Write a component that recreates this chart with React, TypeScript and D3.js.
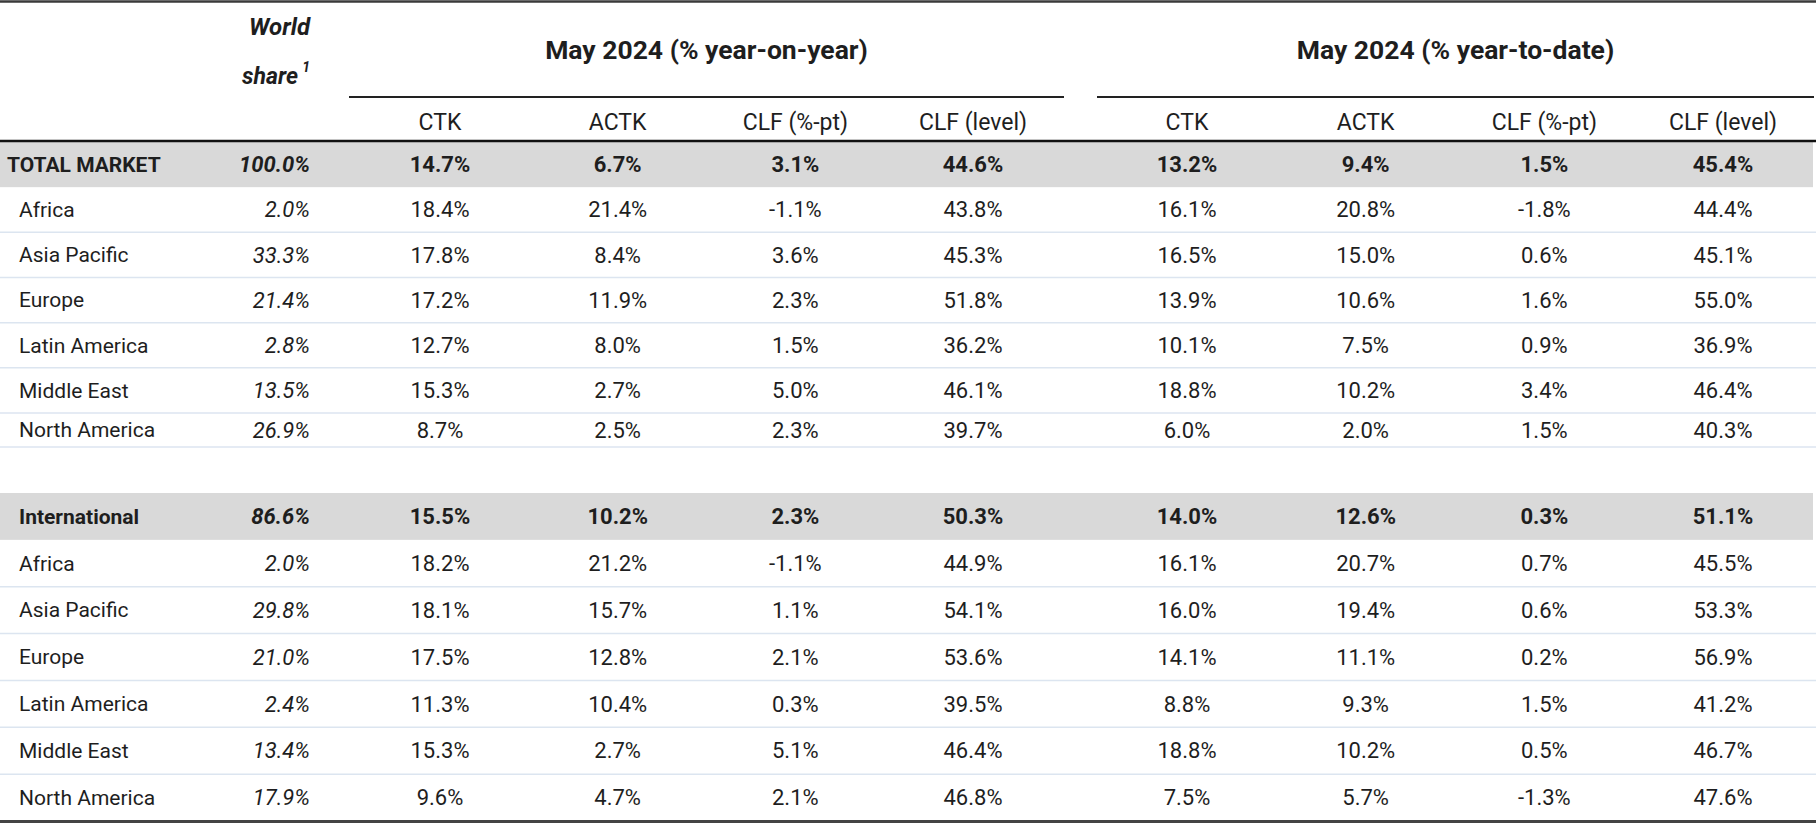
import React from "react";
import * as d3 from "d3";

const columnLabels = ["CTK", "ACTK", "CLF (%-pt)", "CLF (level)"];
const groupTitles = ["May 2024 (% year-on-year)", "May 2024 (% year-to-date)"];

const topRegions = ["TOTAL MARKET", "Africa", "Asia Pacific", "Europe", "Latin America", "Middle East", "North America"];
const topShare = ["100.0%", "2.0%", "33.3%", "21.4%", "2.8%", "13.5%", "26.9%"];
const topYoY = [
  ["14.7%", "6.7%", "3.1%", "44.6%"],
  ["18.4%", "21.4%", "-1.1%", "43.8%"],
  ["17.8%", "8.4%", "3.6%", "45.3%"],
  ["17.2%", "11.9%", "2.3%", "51.8%"],
  ["12.7%", "8.0%", "1.5%", "36.2%"],
  ["15.3%", "2.7%", "5.0%", "46.1%"],
  ["8.7%", "2.5%", "2.3%", "39.7%"],
];
const topYTD = [
  ["13.2%", "9.4%", "1.5%", "45.4%"],
  ["16.1%", "20.8%", "-1.8%", "44.4%"],
  ["16.5%", "15.0%", "0.6%", "45.1%"],
  ["13.9%", "10.6%", "1.6%", "55.0%"],
  ["10.1%", "7.5%", "0.9%", "36.9%"],
  ["18.8%", "10.2%", "3.4%", "46.4%"],
  ["6.0%", "2.0%", "1.5%", "40.3%"],
];

const intlRegions = ["International", "Africa", "Asia Pacific", "Europe", "Latin America", "Middle East", "North America"];
const intlShare = ["86.6%", "2.0%", "29.8%", "21.0%", "2.4%", "13.4%", "17.9%"];
const intlYoY = [
  ["15.5%", "10.2%", "2.3%", "50.3%"],
  ["18.2%", "21.2%", "-1.1%", "44.9%"],
  ["18.1%", "15.7%", "1.1%", "54.1%"],
  ["17.5%", "12.8%", "2.1%", "53.6%"],
  ["11.3%", "10.4%", "0.3%", "39.5%"],
  ["15.3%", "2.7%", "5.1%", "46.4%"],
  ["9.6%", "4.7%", "2.1%", "46.8%"],
];
const intlYTD = [
  ["14.0%", "12.6%", "0.3%", "51.1%"],
  ["16.1%", "20.7%", "0.7%", "45.5%"],
  ["16.0%", "19.4%", "0.6%", "53.3%"],
  ["14.1%", "11.1%", "0.2%", "56.9%"],
  ["8.8%", "9.3%", "1.5%", "41.2%"],
  ["18.8%", "10.2%", "0.5%", "46.7%"],
  ["7.5%", "5.7%", "-1.3%", "47.6%"],
];

const W = 1816;
const H = 824;
const FONT = "Roboto, 'Noto Sans', sans-serif";
const FS_LABEL = 21;
const FS_VAL = 22;
const FS_COL = 23;
const FS_TITLE = 26.5;
const FS_WORLD = 24;
const TXT = "#1e1e1e";
const BAND = "#d9d9d9";
const SEP = "#dce5f0";

export default function App() {
  const idx = d3.range(4);
  const xG1 = d3.scalePoint<number>().domain(idx).range([440, 973]);
  const xG2 = d3.scalePoint<number>().domain(idx).range([1187, 1723]);
  const groupX = [xG1, xG2];
  const groupLine = [[349, 1064], [1097, 1814]];

  const topBand = d3.scaleBand<number>().domain(d3.range(6)).range([142, 413]).paddingInner(0);
  const topRows = d3.range(7).map((i) =>
    i < 6 ? { y0: topBand(i)!, y1: topBand(i)! + topBand.bandwidth() } : { y0: 413, y1: 447 }
  );
  const botBand = d3.scaleBand<number>().domain(d3.range(7)).range([493, 821]);
  const botRows = d3.range(7).map((i) => ({ y0: botBand(i)!, y1: botBand(i)! + botBand.bandwidth() }));

  const shareX = 310;

  const renderBlock = (
    rows: { y0: number; y1: number }[],
    labels: string[],
    share: string[],
    yoy: string[][],
    ytd: string[][],
    key: string,
    firstIndent: number
  ) => (
    <g key={key}>
      {rows.map((r, i) => {
        const cy = (r.y0 + r.y1) / 2;
        const bold = i === 0;
        return (
          <g key={i}>
            {bold && <rect x={0} y={r.y0} width={1813} height={r.y1 - r.y0} fill={BAND} />}
            {!bold && <line x1={0} x2={W} y1={r.y1} y2={r.y1} stroke={SEP} strokeWidth={1.5} />}
            <text
              x={bold ? firstIndent : 19}
              y={cy}
              dy="0.35em"
              fontSize={FS_LABEL}
              fontWeight={bold ? 700 : 400}
              fill={TXT}
            >
              {labels[i]}
            </text>
            <text
              x={shareX}
              y={cy}
              dy="0.35em"
              textAnchor="end"
              fontSize={FS_VAL}
              fontStyle="italic"
              fontWeight={bold ? 700 : 400}
              fill={TXT}
            >
              {share[i]}
            </text>
            {[yoy[i], ytd[i]].map((vals, g) =>
              vals.map((v, c) => (
                <text
                  key={g + "-" + c}
                  x={groupX[g](c)}
                  y={cy}
                  dy="0.35em"
                  textAnchor="middle"
                  fontSize={FS_VAL}
                  fontWeight={bold ? 700 : 400}
                  fill={TXT}
                >
                  {v}
                </text>
              ))
            )}
          </g>
        );
      })}
    </g>
  );

  return (
    <svg
      width={W}
      height={H}
      style={{ position: "absolute", left: 0, top: 0, background: "#fff" }}
      fontFamily={FONT}
    >
      <rect x={0} y={0} width={W} height={H} fill="#fff" />
      <line x1={0} x2={W} y1={1.5} y2={1.5} stroke="#3a3a3a" strokeWidth={2.5} />
      <text x={shareX} y={27} dy="0.35em" textAnchor="end" fontSize={FS_WORLD} fontStyle="italic" fontWeight={700} fill={TXT}>
        World
      </text>
      <text x={shareX - 12} y={76} dy="0.35em" textAnchor="end" fontSize={23} fontStyle="italic" fontWeight={700} fill={TXT}>
        share
      </text>
      <text x={shareX} y={67} dy="0.35em" textAnchor="end" fontSize={14} fontStyle="italic" fontWeight={700} fill={TXT}>
        1
      </text>
      {groupTitles.map((t, g) => (
        <g key={t}>
          <text
            x={(groupLine[g][0] + groupLine[g][1]) / 2}
            y={50}
            dy="0.35em"
            textAnchor="middle"
            fontSize={FS_TITLE}
            fontWeight={700}
            fill={TXT}
          >
            {t}
          </text>
          <line x1={groupLine[g][0]} x2={groupLine[g][1]} y1={97} y2={97} stroke="#222" strokeWidth={2} />
          {columnLabels.map((c, i) => (
            <text key={c} x={groupX[g](i)} y={122} dy="0.35em" textAnchor="middle" fontSize={FS_COL} fill={TXT}>
              {c}
            </text>
          ))}
        </g>
      ))}
      {renderBlock(topRows, topRegions, topShare, topYoY, topYTD, "top", 7)}
      {renderBlock(botRows, intlRegions, intlShare, intlYoY, intlYTD, "bot", 19)}
      <line x1={0} x2={W} y1={141} y2={141} stroke="#111" strokeWidth={2.5} />
      <line x1={0} x2={W} y1={821.5} y2={821.5} stroke="#444" strokeWidth={3} />
    </svg>
  );
}
